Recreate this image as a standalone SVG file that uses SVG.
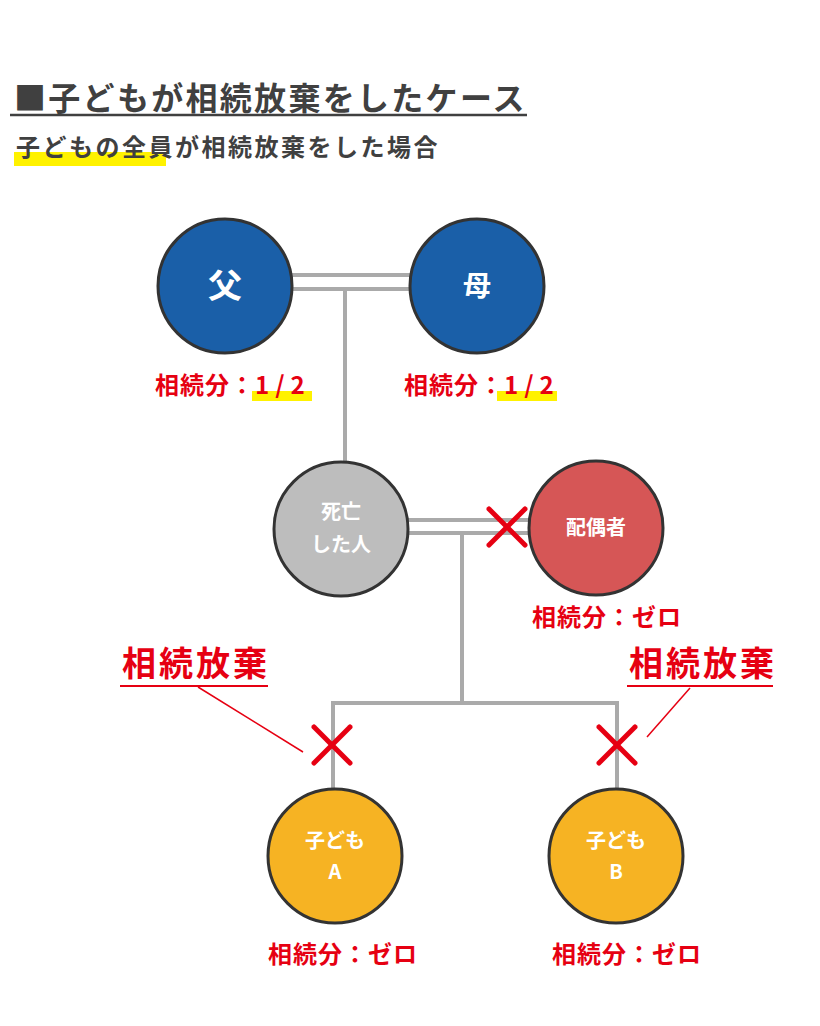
<svg xmlns="http://www.w3.org/2000/svg" width="820" height="1026" viewBox="0 0 820 1026">
<style>
text{font-family:"Noto Sans CJK JP","Noto Sans",sans-serif;font-weight:bold}
.node{stroke:#333;stroke-width:3}
.ntext{fill:#fff;text-anchor:middle}
.share{fill:#e60012;font-size:24px;letter-spacing:1px}
.conn{stroke:#aaa;stroke-width:4;fill:none}
.x{stroke:#e60012;stroke-width:5;stroke-linecap:round}
.hl{fill:#fff200}
.lead{stroke:#e60012;stroke-width:1.5}
.ren{fill:#e60012;font-size:34px;letter-spacing:3px}
</style>
<rect width="820" height="1026" fill="#fff"/>
<g id="title">
<text x="14" y="110" font-size="32" fill="#404040" letter-spacing="2.3">■子どもが相続放棄をしたケース</text>
<line x1="10" y1="115" x2="527" y2="115" stroke="#404040" stroke-width="2.5"/>
</g>
<g id="subtitle">
<rect class="hl" x="14" y="152" width="152" height="14"/>
<text x="16" y="156" font-size="24" fill="#404040" letter-spacing="2.5">子どもの全員が相続放棄をした場合</text>
</g>
<g id="connectors">
<line class="conn" x1="290" y1="275" x2="412" y2="275"/>
<line class="conn" x1="290" y1="289" x2="412" y2="289"/>
<line class="conn" x1="345" y1="289" x2="345" y2="462"/>
<line class="conn" x1="406" y1="520" x2="530" y2="520"/>
<line class="conn" x1="406" y1="533" x2="530" y2="533"/>
<polyline class="conn" points="462,533 462,703"/>
<polyline class="conn" points="333,790 333,703 617,703 617,790"/>
</g>
<g id="father">
<circle class="node" cx="225" cy="286" r="67" fill="#1a5fa8"/>
<text class="ntext" x="225" y="298" font-size="34">父</text>
<g>
<rect class="hl" x="252" y="391" width="60" height="10"/>
<text class="share" x="155" y="394">相続分：<tspan letter-spacing="6">1/2</tspan></text>
</g>
</g>
<g id="mother">
<circle class="node" cx="477" cy="286" r="67" fill="#1a5fa8"/>
<text class="ntext" x="477" y="296" font-size="28">母</text>
<g>
<rect class="hl" x="497" y="391" width="60" height="10"/>
<text class="share" x="404" y="394">相続分：<tspan letter-spacing="6">1/2</tspan></text>
</g>
</g>
<g id="deceased">
<circle class="node" cx="341" cy="529" r="67" fill="#bdbdbd"/>
<text class="ntext" x="341" y="519" font-size="20">死亡</text>
<text class="ntext" x="341" y="552" font-size="20">した人</text>
</g>
<g id="spouse">
<circle class="node" cx="596" cy="528" r="67" fill="#d65656"/>
<text class="ntext" x="596" y="535" font-size="20">配偶者</text>
<text class="share" x="532" y="626">相続分：ゼロ</text>
<g class="x"><line x1="489" y1="509" x2="525" y2="545"/><line x1="525" y1="509" x2="489" y2="545"/></g>
</g>
<g id="renounce-left">
<text class="ren" x="122" y="676">相続放棄</text>
<line x1="120" y1="686" x2="268" y2="686" stroke="#e60012" stroke-width="2"/>
<line class="lead" x1="198" y1="687" x2="303" y2="752"/>
<g class="x"><line x1="314" y1="727" x2="350" y2="763"/><line x1="350" y1="727" x2="314" y2="763"/></g>
</g>
<g id="renounce-right">
<text class="ren" x="629" y="676">相続放棄</text>
<line x1="627" y1="686" x2="773" y2="686" stroke="#e60012" stroke-width="2"/>
<line class="lead" x1="690" y1="688" x2="647" y2="737"/>
<g class="x"><line x1="599" y1="727" x2="635" y2="763"/><line x1="635" y1="727" x2="599" y2="763"/></g>
</g>
<g id="childA">
<circle class="node" cx="335" cy="856" r="67" fill="#f6b323"/>
<text class="ntext" x="335" y="848" font-size="20">子ども</text>
<text class="ntext" x="335" y="879" font-size="20">A</text>
<text class="share" x="268" y="963">相続分：ゼロ</text>
</g>
<g id="childB">
<circle class="node" cx="616" cy="856" r="67" fill="#f6b323"/>
<text class="ntext" x="616" y="848" font-size="20">子ども</text>
<text class="ntext" x="616" y="879" font-size="20">B</text>
<text class="share" x="552" y="963">相続分：ゼロ</text>
</g>
</svg>
